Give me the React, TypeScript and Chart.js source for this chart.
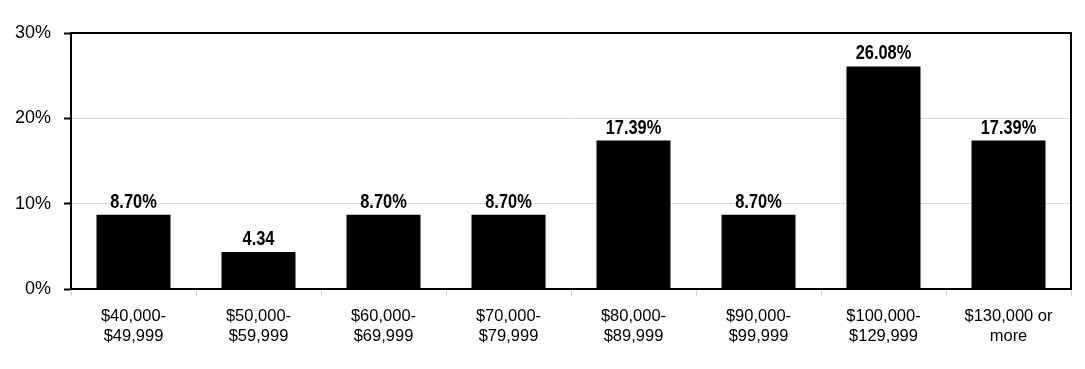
import React, { useEffect, useRef } from "react";
import { Chart, registerables } from "chart.js";

Chart.register(...registerables);

const categories: string[][] = [
  ["$40,000-", "$49,999"],
  ["$50,000-", "$59,999"],
  ["$60,000-", "$69,999"],
  ["$70,000-", "$79,999"],
  ["$80,000-", "$89,999"],
  ["$90,000-", "$99,999"],
  ["$100,000-", "$129,999"],
  ["$130,000 or", "more"],
];
const values: number[] = [8.7, 4.34, 8.7, 8.7, 17.39, 8.7, 26.08, 17.39];
const valueLabels: string[] = ["8.70%", "4.34", "8.70%", "8.70%", "17.39%", "8.70%", "26.08%", "17.39%"];
const yTicks: number[] = [0, 10, 20, 30];

const FONT = "'Liberation Sans', Arial, sans-serif";

const framePlugin = {
  id: "frame",
  afterDatasetsDraw(chart: any) {
    const { ctx, chartArea } = chart;
    ctx.save();
    ctx.strokeStyle = "#000";
    ctx.lineWidth = 2;
    ctx.strokeRect(chartArea.left, chartArea.top, chartArea.right - chartArea.left, chartArea.bottom - chartArea.top);
    ctx.restore();
  },
};

const labelPlugin = {
  id: "valueLabels",
  afterDatasetsDraw(chart: any) {
    const { ctx } = chart;
    const meta = chart.getDatasetMeta(0);
    ctx.save();
    ctx.fillStyle = "#000";
    ctx.font = `bold 20px ${FONT}`;
    ctx.textAlign = "center";
    ctx.textBaseline = "alphabetic";
    meta.data.forEach((bar: any, i: number) => {
      ctx.save();
      ctx.translate(bar.x, bar.y - 7);
      ctx.scale(0.82, 1);
      ctx.fillText(valueLabels[i], 0, 0);
      ctx.restore();
    });
    ctx.restore();
  },
};

export default function App() {
  const ref = useRef<HTMLCanvasElement>(null);
  useEffect(() => {
    if (!ref.current) return;
    const chart = new Chart(ref.current, {
      type: "bar",
      data: {
        labels: categories,
        datasets: [
          {
            data: values,
            backgroundColor: "#000",
            borderWidth: 0,
            categoryPercentage: 1,
            barPercentage: 0.592,
          },
        ],
      },
      options: {
        animation: false,
        responsive: true,
        maintainAspectRatio: false,
        layout: { padding: { left: 0, top: 33, right: 14, bottom: 0 } },
        plugins: { legend: { display: false }, tooltip: { enabled: false } },
        scales: {
          x: {
            grid: {
              drawOnChartArea: false,
              drawTicks: true,
              tickLength: 7,
              tickColor: "#d0d0d0",
              tickWidth: 1,
            },
            border: { display: true, color: "#000", width: 2 },
            ticks: {
              color: "#000",
              padding: 10,
              maxRotation: 0,
              autoSkip: false,
              font: { family: FONT, size: 16.5, lineHeight: 1.22 },
            },
            afterFit(scale: any) {
              scale.height = 80;
            },
          },
          y: {
            min: 0,
            max: 30,
            afterBuildTicks(scale: any) {
              scale.ticks = yTicks.map((v) => ({ value: v }));
            },
            grid: {
              color: "#d9d9d9",
              lineWidth: 1,
              drawTicks: true,
              tickLength: 7,
              tickColor: "#000",
              tickWidth: 2,
            },
            border: { display: true, color: "#000", width: 2 },
            ticks: {
              color: "#000",
              padding: 13,
              font: { family: FONT, size: 18 },
              callback: (v: any) => `${v}%`,
            },
            afterFit(scale: any) {
              scale.width = 71;
            },
          },
        },
      },
      plugins: [framePlugin, labelPlugin],
    });
    return () => chart.destroy();
  }, []);
  return (
    <div style={{ position: "fixed", left: 0, top: 0, width: 1085, height: 369, background: "#fff" }}>
      <canvas ref={ref} />
    </div>
  );
}
